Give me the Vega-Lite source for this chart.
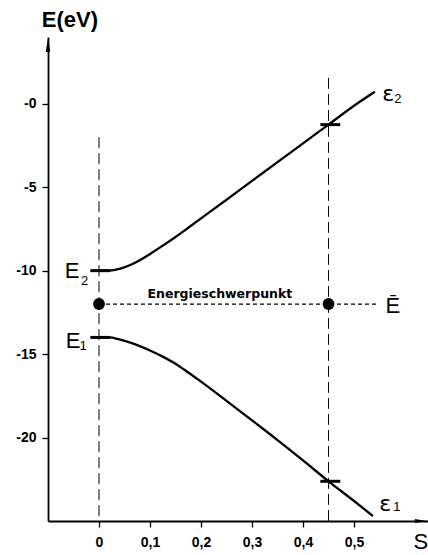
{
  "$schema": "https://vega.github.io/schema/vega-lite/v6.json",
  "autosize": {"type": "none"},
  "padding": {"left": 48, "top": 37, "right": 0, "bottom": 34},
  "width": 380,
  "height": 484,
  "background": "white",
  "config": {
    "view": {"stroke": null},
    "axis": {
      "grid": false,
      "title": null,
      "domainColor": "black",
      "domainWidth": 1.8,
      "tickColor": "black",
      "tickWidth": 1.3,
      "tickSize": 6,
      "labelColor": "black",
      "labelFont": "Liberation Sans",
      "labelFontWeight": "bold",
      "labelFontSize": 14
    }
  },
  "encoding": {
    "x": {
      "field": "s",
      "type": "quantitative",
      "scale": {"domain": [-0.1, 0.645], "nice": false, "zero": false},
      "axis": {
        "values": [0, 0.1, 0.2, 0.3, 0.4, 0.5],
        "labelPadding": 8,
        "labelFontSize": 14,
        "labelExpr": "datum.value == 0 ? '0' : replace(format(datum.value, '.1f'), '.', ',')"
      }
    },
    "y": {
      "field": "e",
      "type": "quantitative",
      "scale": {"domain": [-25, 4], "nice": false, "zero": false},
      "axis": {
        "values": [0, -5, -10, -15, -20],
        "labelPadding": 6,
        "labelFontSize": 14,
        "labelExpr": "datum.value == 0 ? '-0' : '-' + abs(datum.value)"
      }
    }
  },
  "layer": [
    {
      "data": {"values": [
        {"s": 0, "e": -2, "e2": -25},
        {"s": 0.45, "e": 1.55, "e2": -25}
      ]},
      "mark": {"type": "rule", "color": "black", "strokeWidth": 1, "strokeDash": [11, 5]},
      "encoding": {"y2": {"field": "e2"}}
    },
    {
      "data": {"values": [{"s": 0, "s2": 0.545, "e": -12}]},
      "mark": {"type": "rule", "color": "black", "strokeWidth": 1.3, "strokeDash": [4, 3]},
      "encoding": {"x2": {"field": "s2"}}
    },
    {
      "data": {"values": [
        {"curve": "eps2", "s": 0, "e": -10},
        {"curve": "eps2", "s": 0.02, "e": -10},
        {"curve": "eps2", "s": 0.04, "e": -9.9},
        {"curve": "eps2", "s": 0.06, "e": -9.68},
        {"curve": "eps2", "s": 0.08, "e": -9.38},
        {"curve": "eps2", "s": 0.1, "e": -9.0},
        {"curve": "eps2", "s": 0.125, "e": -8.5},
        {"curve": "eps2", "s": 0.15, "e": -7.98},
        {"curve": "eps2", "s": 0.175, "e": -7.43},
        {"curve": "eps2", "s": 0.2, "e": -6.87},
        {"curve": "eps2", "s": 0.25, "e": -5.75},
        {"curve": "eps2", "s": 0.3, "e": -4.62},
        {"curve": "eps2", "s": 0.35, "e": -3.5},
        {"curve": "eps2", "s": 0.4, "e": -2.37},
        {"curve": "eps2", "s": 0.45, "e": -1.25},
        {"curve": "eps2", "s": 0.5, "e": -0.12},
        {"curve": "eps2", "s": 0.541, "e": 0.72},
        {"curve": "eps1", "s": 0, "e": -14},
        {"curve": "eps1", "s": 0.02, "e": -14},
        {"curve": "eps1", "s": 0.04, "e": -14.12},
        {"curve": "eps1", "s": 0.06, "e": -14.3},
        {"curve": "eps1", "s": 0.08, "e": -14.52},
        {"curve": "eps1", "s": 0.1, "e": -14.78},
        {"curve": "eps1", "s": 0.125, "e": -15.15},
        {"curve": "eps1", "s": 0.15, "e": -15.58},
        {"curve": "eps1", "s": 0.175, "e": -16.1},
        {"curve": "eps1", "s": 0.2, "e": -16.65},
        {"curve": "eps1", "s": 0.25, "e": -17.8},
        {"curve": "eps1", "s": 0.3, "e": -18.97},
        {"curve": "eps1", "s": 0.35, "e": -20.15},
        {"curve": "eps1", "s": 0.4, "e": -21.37},
        {"curve": "eps1", "s": 0.45, "e": -22.62},
        {"curve": "eps1", "s": 0.5, "e": -23.8},
        {"curve": "eps1", "s": 0.537, "e": -24.7}
      ]},
      "mark": {"type": "line", "color": "black", "strokeWidth": 2.3, "interpolate": "monotone"},
      "encoding": {"detail": {"field": "curve"}}
    },
    {
      "data": {"values": [
        {"s": -0.017, "s2": 0.022, "e": -10},
        {"s": -0.017, "s2": 0.022, "e": -14},
        {"s": 0.434, "s2": 0.473, "e": -1.25},
        {"s": 0.434, "s2": 0.473, "e": -22.62}
      ]},
      "mark": {"type": "rule", "color": "black", "strokeWidth": 3},
      "encoding": {"x2": {"field": "s2"}}
    },
    {
      "data": {"values": [{"s": 0, "e": -12}, {"s": 0.45, "e": -12}]},
      "mark": {"type": "point", "filled": true, "color": "black", "opacity": 1, "size": 140, "shape": "circle"}
    },
    {
      "data": {"values": [{"s": -0.1, "e": 3.52}]},
      "mark": {"type": "point", "filled": true, "color": "black", "opacity": 1, "size": 196, "shape": "M0,-1L0.32,1L-0.32,1Z"}
    },
    {
      "data": {"values": [{"s": 0.631, "e": -25}]},
      "mark": {"type": "point", "filled": true, "color": "black", "opacity": 1, "size": 144, "shape": "M1,0L-1,0.32L-1,-0.32Z"}
    },
    {
      "data": {"values": [{"label": "E(eV)", "s": -0.057, "e": 5.02}]},
      "mark": {"type": "text", "font": "Liberation Sans", "fontWeight": "bold", "fontSize": 22, "color": "black", "baseline": "middle", "align": "center"},
      "encoding": {"text": {"field": "label"}}
    },
    {
      "data": {"values": [{"label": "Energieschwerpunkt", "s": 0.237, "e": -11.4}]},
      "mark": {"type": "text", "font": "DejaVu Sans", "fontWeight": "bold", "fontSize": 12.5, "color": "black", "baseline": "middle", "align": "center"},
      "encoding": {"text": {"field": "label"}}
    },
    {
      "data": {"values": [
        {"label": "E", "s": -0.053, "e": -10.02},
        {"label": "E", "s": -0.051, "e": -14.21},
        {"label": "Ē", "s": 0.576, "e": -12.12},
        {"label": "S", "s": 0.631, "e": -26.26}
      ]},
      "mark": {"type": "text", "font": "Liberation Sans", "fontSize": 22, "color": "black", "baseline": "middle", "align": "center"},
      "encoding": {"text": {"field": "label"}}
    },
    {
      "data": {"values": [
        {"label": "ε", "s": 0.567, "e": 0.58},
        {"label": "ε", "s": 0.561, "e": -23.98}
      ]},
      "mark": {"type": "text", "font": "DejaVu Sans", "fontSize": 22, "color": "black", "baseline": "middle", "align": "center"},
      "encoding": {"text": {"field": "label"}}
    },
    {
      "data": {"values": [
        {"label": "2", "s": -0.028, "e": -10.6},
        {"label": "1", "s": -0.031, "e": -14.5},
        {"label": "2", "s": 0.586, "e": 0.29},
        {"label": "1", "s": 0.584, "e": -24.16}
      ]},
      "mark": {"type": "text", "font": "Liberation Sans", "fontSize": 13, "color": "black", "baseline": "middle", "align": "center"},
      "encoding": {"text": {"field": "label"}}
    }
  ]
}
